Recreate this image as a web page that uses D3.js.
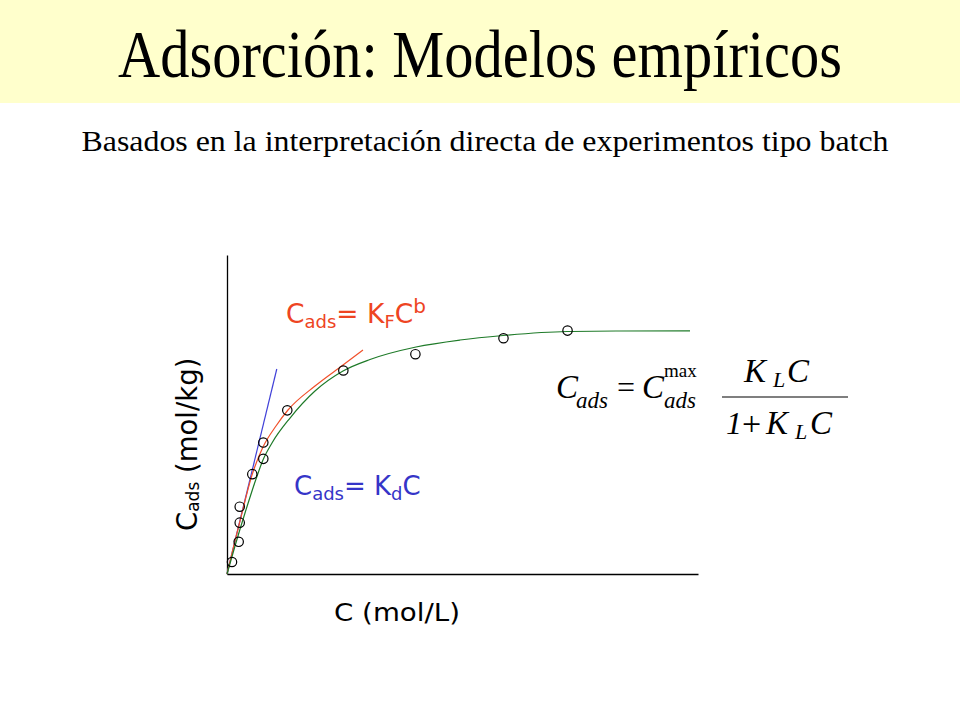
<!DOCTYPE html>
<html><head><meta charset="utf-8">
<script src="https://cdn.jsdelivr.net/npm/d3@7"></script>
<style>body{margin:0;background:#fff}svg{display:block}</style>
</head><body>
<script>
// Experimental points (C, Cads) in arbitrary units
const pointC    = [1.06, 2.48, 2.70, 2.70, 5.37, 7.71, 7.71, 12.8, 24.7, 40.0, 58.7, 72.3];
const pointCads = [3.76, 10.1, 16.1, 21.1, 31.3, 36.1, 41.2, 51.3, 63.8, 68.9, 73.9, 76.3];
// Langmuir curve (green)
const langC    = [0, 1.70, 3.82, 6.16, 7.64, 9.55, 13.38, 18.68, 24.63, 30.36, 40.13, 49.47, 58.60, 72.19, 83.44, 98.30];
const langCads = [0, 8.78, 19.12, 29.78, 35.74, 41.07, 48.90, 57.37, 63.64, 67.24, 71.16, 73.35, 74.76, 76.02, 76.18, 76.24];
// Freundlich curve (red)
const freuC    = [0, 1.27, 2.76, 5.31, 7.64, 10.40, 12.95, 18.68, 24.63, 28.87];
const freuCads = [0, 7.84, 16.61, 31.03, 39.81, 46.39, 51.41, 58.93, 65.52, 70.22];
// Linear Kd line (blue)
const linC    = [0, 10.57];
const linCads = [0, 64.26];

const W = 960, H = 720;
const svg = d3.select("body").append("svg").attr("width", W).attr("height", H);

// title band
svg.append("rect").attr("x",0).attr("y",0).attr("width",W).attr("height",103).attr("fill","#FFFFCC");
svg.append("text").attr("x",480).attr("y",77).attr("text-anchor","middle")
  .attr("font-family","'Liberation Serif', serif").attr("font-size",68)
  .attr("textLength",724).attr("lengthAdjust","spacingAndGlyphs")
  .text("Adsorción: Modelos empíricos");
svg.append("text").attr("x",485).attr("y",151).attr("text-anchor","middle")
  .attr("font-family","'Liberation Serif', serif").attr("font-size",30)
  .attr("textLength",807).attr("lengthAdjust","spacingAndGlyphs")
  .text("Basados en la interpretación directa de experimentos tipo batch");

const x = d3.scaleLinear().domain([0,100]).range([227,698]);
const y = d3.scaleLinear().domain([0,100]).range([574,255]);

svg.append("g").attr("transform","translate(0,574)")
  .call(d3.axisBottom(x).tickValues([]).tickSizeOuter(0))
  .select(".domain").attr("stroke","#000").attr("stroke-width",1.3);
svg.append("g").attr("transform","translate(227,0)")
  .call(d3.axisLeft(y).tickValues([]).tickSizeOuter(0))
  .select(".domain").attr("stroke","#000").attr("stroke-width",1.3);

const line = d3.line().x(d=>x(d[0])).y(d=>y(d[1])).curve(d3.curveMonotoneX);
const zip = (a,b)=>a.map((v,i)=>[v,b[i]]);

svg.append("path").datum(zip(linC,linCads)).attr("d",line)
  .attr("fill","none").attr("stroke","#4040D8").attr("stroke-width",1.2);
svg.append("path").datum(zip(freuC,freuCads)).attr("d",line)
  .attr("fill","none").attr("stroke","#F0502A").attr("stroke-width",1.2);
svg.append("path").datum(zip(langC,langCads)).attr("d",line)
  .attr("fill","none").attr("stroke","#1E7A28").attr("stroke-width",1.2);

svg.selectAll("circle.pt").data(zip(pointC,pointCads)).enter().append("circle")
  .attr("class","pt").attr("cx",d=>x(d[0])).attr("cy",d=>y(d[1])).attr("r",4.7)
  .attr("fill","none").attr("stroke","#000").attr("stroke-width",1.2);

const sans = "'DejaVu Sans', Verdana, sans-serif";
// axis labels
svg.append("text").attr("x",334).attr("y",621).attr("font-family",sans).attr("font-size",25)
  .attr("textLength",126).attr("lengthAdjust","spacingAndGlyphs").text("C (mol/L)");
const yl = svg.append("text").attr("transform","translate(197,531) rotate(-90)")
  .attr("font-family",sans).attr("font-size",27.5);
yl.append("tspan").text("C");
yl.append("tspan").attr("font-size",17).attr("dy",2).text("ads");
yl.append("tspan").attr("dy",-2).text(" (mol/kg)");

// Freundlich annotation
const red = "#EE4422";
const ft = svg.append("text").attr("x",286).attr("y",323).attr("font-family",sans).attr("font-size",26.5).attr("fill",red);
ft.append("tspan").text("C");
ft.append("tspan").attr("font-size",18).attr("dy",5).text("ads");
ft.append("tspan").attr("dy",-5).text("= K");
ft.append("tspan").attr("font-size",18).attr("dy",5).text("F");
ft.append("tspan").attr("dy",-5).text("C");
ft.append("tspan").attr("font-size",20).attr("dy",-10).text("b");

// Linear annotation
const blue = "#3535C8";
const bt = svg.append("text").attr("x",294).attr("y",495).attr("font-family",sans).attr("font-size",26).attr("fill",blue);
bt.append("tspan").text("C");
bt.append("tspan").attr("font-size",18).attr("dy",5).text("ads");
bt.append("tspan").attr("dy",-5).text("= K");
bt.append("tspan").attr("font-size",18).attr("dy",5).text("d");
bt.append("tspan").attr("dy",-5).text("C");

// Langmuir formula
const serif = "'Liberation Serif', serif";
function t(xp, yp, s, size, italic){
  svg.append("text").attr("x",xp).attr("y",yp).attr("font-family",serif)
    .attr("font-size",size).attr("font-style",italic?"italic":"normal").text(s);
}
t(556,398,"C",33,true);
t(576,408,"ads",23,true);
t(617,398,"=",32,false);
t(642,398,"C",33,true);
t(664,377,"max",19,false);
t(664,408,"ads",23,true);
svg.append("line").attr("x1",722).attr("x2",848).attr("y1",397).attr("y2",397)
  .attr("stroke","#000").attr("stroke-width",1.2);
t(744,382,"K",33,true);
t(773,387,"L",22,true);
t(787,382,"C",33,true);
t(726,434,"1",32,true);
t(742,435,"+",34,false);
t(766,434,"K",33,true);
t(795,439,"L",22,true);
t(810,434,"C",33,true);
</script>
</body></html>
